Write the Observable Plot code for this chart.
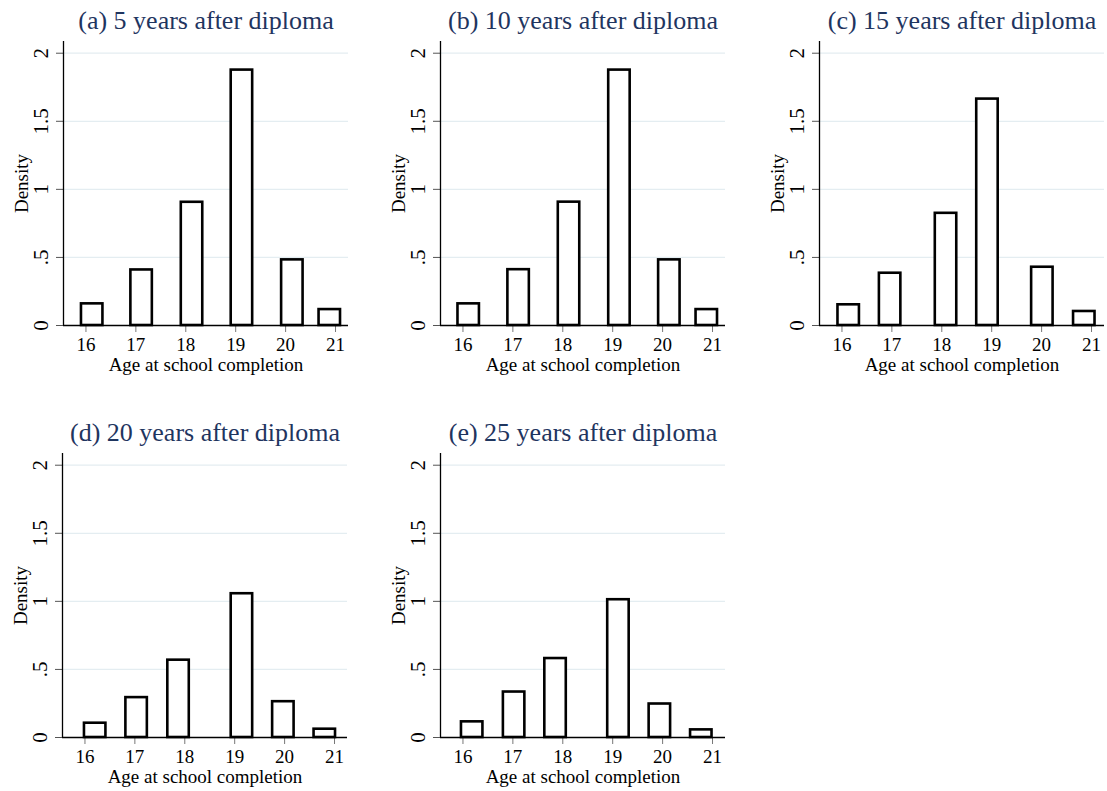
<!DOCTYPE html>
<html>
<head>
<meta charset="utf-8">
<script src="https://cdn.jsdelivr.net/npm/d3@7"></script>
<script src="https://cdn.jsdelivr.net/npm/@observablehq/plot@0.6"></script>
<style>
  html, body { margin: 0; padding: 0; background: #fff; }
  #wrap { position: relative; width: 1107px; height: 791px; overflow: hidden; background: #fff; }
  .panel { position: absolute; }
</style>
</head>
<body>
<div id="wrap"></div>
<script>
// ---- data ----
const ages = [16, 17, 18, 19, 20, 21];
const titles = [
  "(a) 5 years after diploma",
  "(b) 10 years after diploma",
  "(c) 15 years after diploma",
  "(d) 20 years after diploma",
  "(e) 25 years after diploma"
];
// left edge of each histogram bar (in years)
const binStartA = [15.91, 16.90, 17.91, 18.91, 19.92, 20.67];
const binStartB = [15.90, 16.90, 17.91, 18.92, 19.92, 20.67];
const binStartC = [15.92, 16.75, 17.87, 18.70, 19.80, 20.64];
const binStartD = [15.99, 16.82, 17.66, 18.93, 19.76, 20.59];
const binStartE = [15.97, 16.81, 17.64, 18.90, 19.73, 20.56];
const barWidth = 0.43;
// densities
const densA = [0.159, 0.408, 0.905, 1.876, 0.482, 0.117];
const densB = [0.159, 0.410, 0.906, 1.876, 0.482, 0.117];
const densC = [0.152, 0.384, 0.824, 1.663, 0.428, 0.103];
const densD = [0.105, 0.293, 0.568, 1.056, 0.263, 0.061];
const densE = [0.115, 0.334, 0.580, 1.012, 0.246, 0.056];
const yTicks = [0, 0.5, 1, 1.5, 2];
const yTickLabels = ["0", ".5", "1", "1.5", "2"];
const xTitle = "Age at school completion";
const yTitle = "Density";
const xDomain = [15.55, 21.26];
const yDomain = [0, 2.086];

const panels = [
  {title: titles[0], starts: binStartA, dens: densA, left: 0, top: 0},
  {title: titles[1], starts: binStartB, dens: densB, left: 377, top: 0},
  {title: titles[2], starts: binStartC, dens: densC, left: 756, top: 0},
  {title: titles[3], starts: binStartD, dens: densD, left: -1.5, top: 412.3},
  {title: titles[4], starts: binStartE, dens: densE, left: 377, top: 412.3}
];

const font = "Liberation Serif, Times New Roman, serif";
const wrap = document.getElementById("wrap");

for (const p of panels) {
  const data = ages.map((a, i) => ({age: a, start: p.starts[i], density: p.dens[i]}));
  const yLab = yTicks.map((v, i) => ({v, label: yTickLabels[i]}));
  const chart = Plot.plot({
    width: 351,
    height: 380,
    marginLeft: 63,
    marginRight: 3,
    marginTop: 41,
    marginBottom: 55,
    style: {fontFamily: font, fontSize: "18px", background: "#fff", color: "#000", overflow: "visible"},
    x: {domain: xDomain, label: null},
    y: {domain: yDomain, label: null},
    marks: [
      Plot.gridY(yTicks.filter(d => d > 0), {stroke: "#e4edf1", strokeOpacity: 1, strokeWidth: 1.2}),
      Plot.axisX(ages, {tickSize: 7, stroke: "#777", tickFormat: () => "", label: null}),
      Plot.axisY(yTicks, {tickSize: 7, stroke: "#555", tickFormat: () => "", label: null}),
      Plot.text(ages, {x: d => d, frameAnchor: "bottom", dy: 25.5, lineAnchor: "bottom", textAnchor: "middle",
        text: d => String(d), fontSize: 19, fill: "#000"}),
      Plot.text(yLab, {y: "v", text: "label", frameAnchor: "left", dx: -16, rotate: -90,
        lineAnchor: "bottom", textAnchor: "middle", fontSize: 21, fill: "#000"}),
      Plot.rectY(data, {x1: "start", x2: d => d.start + barWidth, y: "density",
        fill: "#fff", stroke: "#000", strokeWidth: 2.6}),
      Plot.ruleY([0], {stroke: "#000", strokeWidth: 1.3}),
      Plot.ruleX([xDomain[0]], {stroke: "#000", strokeWidth: 1.3}),
      Plot.text([p.title], {frameAnchor: "top", dy: -13, lineAnchor: "bottom", textAnchor: "middle", fontSize: 26, fill: "#1f355f"}),
      Plot.text([xTitle], {frameAnchor: "bottom", dy: 45, lineAnchor: "bottom", textAnchor: "middle", fontSize: 19, fill: "#000"}),
      Plot.text([yTitle], {frameAnchor: "left", dx: -36, rotate: -90, lineAnchor: "bottom", textAnchor: "middle", fontSize: 19, fill: "#000"})
    ]
  });
  chart.classList.add("panel");
  chart.style.left = p.left + "px";
  chart.style.top = p.top + "px";
  wrap.appendChild(chart);
}
</script>
</body>
</html>
